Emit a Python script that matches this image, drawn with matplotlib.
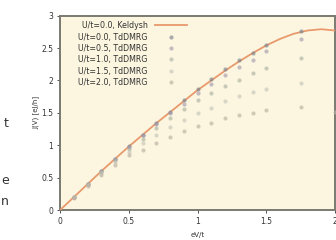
import matplotlib
matplotlib.use('Agg')
import matplotlib.pyplot as plt

# Keldysh curve (U/t=0.0)
x_keldysh = [0.0, 0.1, 0.2, 0.3, 0.4, 0.5, 0.6, 0.7, 0.8, 0.9, 1.0,
             1.1, 1.2, 1.3, 1.4, 1.5, 1.6, 1.7, 1.8, 1.9, 2.0]
j_keldysh = [0.0, 0.2, 0.4, 0.6, 0.79, 0.98, 1.16, 1.34, 1.51, 1.68, 1.85,
             2.0, 2.15, 2.29, 2.42, 2.54, 2.64, 2.72, 2.77, 2.79, 2.77]

# TdDMRG points
x_td = [0.1, 0.2, 0.3, 0.4, 0.5, 0.6, 0.7, 0.8, 0.9, 1.0, 1.1, 1.2, 1.3, 1.4, 1.5, 1.75]
j_u00 = [0.2, 0.4, 0.6, 0.79, 0.98, 1.16, 1.35, 1.52, 1.69, 1.86, 2.02, 2.18, 2.31, 2.43, 2.55, 2.76]
j_u05 = [0.2, 0.4, 0.6, 0.79, 0.97, 1.15, 1.33, 1.49, 1.64, 1.8, 1.95, 2.08, 2.2, 2.32, 2.45, 2.64]
j_u10 = [0.2, 0.4, 0.59, 0.77, 0.94, 1.1, 1.26, 1.42, 1.56, 1.69, 1.8, 1.92, 2.01, 2.11, 2.19, 2.35]
j_u15 = [0.2, 0.39, 0.57, 0.74, 0.89, 1.03, 1.16, 1.28, 1.39, 1.49, 1.58, 1.68, 1.76, 1.82, 1.86, 1.96]
x_u20 = x_td + [2.0]
j_u20 = [0.19, 0.37, 0.54, 0.7, 0.85, 0.93, 1.04, 1.13, 1.22, 1.29, 1.35, 1.42, 1.47, 1.5, 1.54, 1.59, 1.52]

labels = ['U/t=0.0, Keldysh', 'U/t=0.0, TdDMRG', 'U/t=0.5, TdDMRG',
          'U/t=1.0, TdDMRG', 'U/t=1.5, TdDMRG', 'U/t=2.0, TdDMRG']
x_ticks = [0, 0.5, 1, 1.5, 2]
x_tick_labels = ['0', '0.5', '1', '1.5', '2']
y_ticks = [0, 0.5, 1, 1.5, 2, 2.5, 3]
y_tick_labels = ['0', '0.5', '1', '1.5', '2', '2.5', '3']

fig = plt.figure(figsize=(3.36, 2.4), dpi=100)
fig.patch.set_facecolor('white')
ax = fig.add_axes([0.179, 0.125, 0.818, 0.81])
ax.set_facecolor('#fcf6e0')

ax.plot(x_keldysh, j_keldysh, color='#e89a6c', lw=1.3, label=labels[0], zorder=3)

series = [
    (x_td, j_u00, '#7a8490'),
    (x_td, j_u05, '#a59cae'),
    (x_td, j_u10, '#abb3a2'),
    (x_td, j_u15, '#c6c6b8'),
    (x_u20, j_u20, '#bcb0a2'),
]
for (xs, ys, c), lab in zip(series, labels[1:]):
    ax.plot(xs, ys, ls='none', marker='o', ms=3.0, mec='none', mfc=c,
            alpha=0.65, label=lab, zorder=4)

ax.set_xlim(0, 2)
ax.set_ylim(0, 3)
ax.set_xticks(x_ticks)
ax.set_xticklabels(x_tick_labels)
ax.set_yticks(y_ticks)
ax.set_yticklabels(y_tick_labels)
ax.tick_params(labelsize=5.5, length=2, width=0.6, colors='#333333', pad=3)

for sp in ax.spines.values():
    sp.set_color('#7a7a72')
    sp.set_linewidth(1.4)

ax.set_xlabel('eV/t', fontsize=5, labelpad=4, color='#333333')
ax.set_ylabel('J(V) [eJ/h]', fontsize=5, labelpad=1, color='#333333')

leg = ax.legend(loc='upper left', fontsize=5.7, frameon=False, markerfirst=False,
                handlelength=4.0, handletextpad=1.0, labelspacing=0.3,
                borderaxespad=0.3, bbox_to_anchor=(0.045, 1.0))
for t in leg.get_texts():
    t.set_color('#333333')

# stray page text at the left edge of the crop
fig.text(0.012, 0.47, 't', fontsize=9, color='#333333')
fig.text(0.003, 0.235, 'e', fontsize=9, color='#333333')
fig.text(0.003, 0.145, 'n', fontsize=9, color='#333333')

fig.savefig('out.png', dpi=100)
